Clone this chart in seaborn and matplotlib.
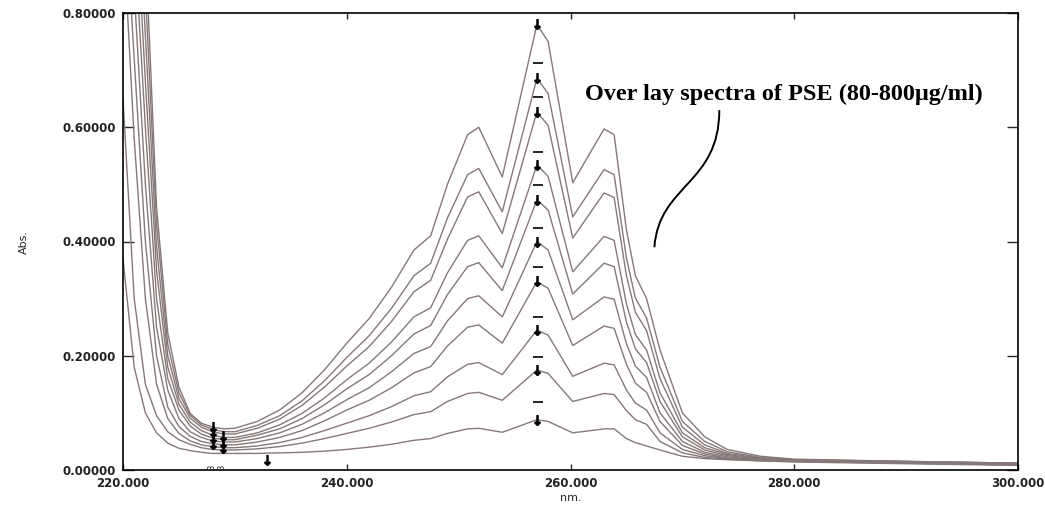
import pandas as pd
import seaborn as sns
import matplotlib.pyplot as plt
from matplotlib.path import Path
from matplotlib.patches import PathPatch
from matplotlib.ticker import FormatStrFormatter

# wavelengths (nm)
wavelength = [220, 221, 222, 223, 224, 225, 226, 227, 228, 229,
              230, 232, 234, 236, 238, 240, 242, 244, 246, 247.5,
              249, 250.8, 251.8, 253.9, 257, 258, 260.2, 263, 263.9, 265,
              265.8, 266.8, 268, 270, 272, 274, 277, 280, 290, 300]

# absorbance of each standard (80 ... 800 ug/ml)
abs_80 = [0.37, 0.18, 0.10, 0.065, 0.047, 0.038, 0.034, 0.031, 0.029, 0.029,
          0.029, 0.029, 0.030, 0.031, 0.033, 0.036, 0.040, 0.045, 0.052, 0.055,
          0.064, 0.072, 0.073, 0.066, 0.088, 0.085, 0.065, 0.072, 0.072, 0.055,
          0.048, 0.042, 0.035, 0.024, 0.020, 0.018, 0.016, 0.014, 0.011, 0.008]
abs_160 = [0.65, 0.30, 0.15, 0.095, 0.067, 0.053, 0.045, 0.039, 0.036, 0.035,
           0.035, 0.037, 0.041, 0.047, 0.055, 0.064, 0.073, 0.084, 0.097, 0.102,
           0.120, 0.134, 0.136, 0.122, 0.175, 0.169, 0.120, 0.134, 0.132, 0.104,
           0.088, 0.080, 0.050, 0.030, 0.022, 0.019, 0.016, 0.015, 0.012, 0.009]
abs_240 = [0.95, 0.58, 0.30, 0.15, 0.09, 0.064, 0.051, 0.044, 0.041, 0.039,
           0.039, 0.042, 0.048, 0.057, 0.069, 0.082, 0.095, 0.111, 0.130, 0.137,
           0.163, 0.185, 0.188, 0.167, 0.245, 0.236, 0.164, 0.187, 0.184, 0.140,
           0.117, 0.105, 0.065, 0.036, 0.025, 0.020, 0.017, 0.015, 0.012, 0.009]
abs_320 = [1.05, 0.72, 0.40, 0.20, 0.11, 0.076, 0.059, 0.050, 0.046, 0.044,
           0.044, 0.049, 0.057, 0.069, 0.086, 0.105, 0.122, 0.144, 0.170, 0.181,
           0.217, 0.250, 0.254, 0.222, 0.330, 0.318, 0.218, 0.252, 0.248, 0.185,
           0.152, 0.136, 0.085, 0.043, 0.028, 0.021, 0.017, 0.016, 0.013, 0.010]
abs_400 = [1.15, 0.84, 0.50, 0.25, 0.14, 0.090, 0.067, 0.057, 0.051, 0.049,
           0.049, 0.055, 0.065, 0.080, 0.100, 0.123, 0.144, 0.172, 0.204, 0.216,
           0.261, 0.300, 0.305, 0.268, 0.400, 0.385, 0.263, 0.303, 0.299, 0.221,
           0.182, 0.162, 0.100, 0.050, 0.031, 0.023, 0.018, 0.016, 0.013, 0.010]
abs_480 = [1.25, 0.94, 0.60, 0.30, 0.16, 0.105, 0.077, 0.063, 0.056, 0.053,
           0.053, 0.061, 0.072, 0.090, 0.114, 0.142, 0.167, 0.200, 0.238, 0.253,
           0.307, 0.356, 0.363, 0.314, 0.473, 0.455, 0.308, 0.362, 0.356, 0.259,
           0.212, 0.188, 0.120, 0.058, 0.035, 0.025, 0.019, 0.017, 0.014, 0.011]
abs_560 = [1.35, 1.04, 0.68, 0.35, 0.18, 0.115, 0.084, 0.069, 0.061, 0.057,
           0.057, 0.065, 0.079, 0.099, 0.126, 0.158, 0.187, 0.224, 0.268, 0.284,
           0.345, 0.402, 0.410, 0.354, 0.534, 0.514, 0.347, 0.409, 0.402, 0.291,
           0.237, 0.210, 0.135, 0.065, 0.039, 0.027, 0.020, 0.017, 0.014, 0.011]
abs_640 = [1.45, 1.14, 0.76, 0.39, 0.20, 0.125, 0.091, 0.075, 0.067, 0.063,
           0.063, 0.073, 0.089, 0.113, 0.145, 0.182, 0.216, 0.260, 0.312, 0.332,
           0.404, 0.478, 0.487, 0.414, 0.627, 0.603, 0.406, 0.485, 0.477, 0.340,
           0.276, 0.244, 0.160, 0.075, 0.044, 0.029, 0.021, 0.018, 0.015, 0.012]
abs_720 = [1.55, 1.24, 0.84, 0.43, 0.22, 0.135, 0.096, 0.079, 0.071, 0.067,
           0.067, 0.078, 0.095, 0.121, 0.156, 0.197, 0.235, 0.283, 0.340, 0.362,
           0.441, 0.517, 0.528, 0.452, 0.686, 0.659, 0.443, 0.526, 0.517, 0.371,
           0.301, 0.266, 0.180, 0.085, 0.050, 0.032, 0.022, 0.018, 0.015, 0.012]
abs_800 = [1.7, 1.34, 0.92, 0.46, 0.24, 0.145, 0.099, 0.082, 0.075, 0.072,
           0.073, 0.085, 0.105, 0.135, 0.175, 0.222, 0.265, 0.32, 0.385, 0.41,
           0.50, 0.587, 0.60, 0.513, 0.78, 0.75, 0.503, 0.597, 0.587, 0.42,
           0.34, 0.30, 0.210, 0.100, 0.058, 0.036, 0.024, 0.019, 0.015, 0.012]

concentrations = [80, 160, 240, 320, 400, 480, 560, 640, 720, 800]
spectra = [abs_80, abs_160, abs_240, abs_320, abs_400,
           abs_480, abs_560, abs_640, abs_720, abs_800]

# peak-pick marks (lambda max 257 nm) and the small dashes above them
peak_nm = 257.0
peak_abs = [0.088, 0.175, 0.245, 0.33, 0.40, 0.473, 0.534, 0.627, 0.686, 0.78]
dash_abs = [0.119, 0.198, 0.268, 0.355, 0.424, 0.499, 0.557, 0.653, 0.713]
# valley-pick marks near 228 nm
valley_nm = [228.0, 228.0, 228.0, 228.0, 228.9, 228.9, 228.9, 232.9]
valley_abs = [0.075, 0.066, 0.056, 0.045, 0.060, 0.048, 0.038, 0.018]

rows = []
for conc, values in zip(concentrations, spectra):
    for nm, a in zip(wavelength, values):
        rows.append({'nm': nm, 'abs': a, 'conc': conc})
data = pd.DataFrame(rows)

sns.set_style('ticks')
plt.rcParams['font.family'] = ['DejaVu Sans']

fig = plt.figure(figsize=(10.45, 5.21), dpi=100)
ax = fig.add_axes([123 / 1045, 51 / 521, 895 / 1045, 457 / 521])

sns.lineplot(data=data, x='nm', y='abs', hue='conc', units='conc', estimator=None,
             palette=['#867878'] * len(concentrations), linewidth=1.0,
             legend=False, sort=False, ax=ax)

# peak / valley markers
ax.plot([peak_nm] * len(peak_abs), peak_abs, linestyle='none', marker=r'$\downarrow$',
        markersize=7, color='black')
ax.plot([peak_nm + 0.1] * len(dash_abs), dash_abs, linestyle='none', marker='_',
        markersize=7, markeredgewidth=1.2, color='black')
ax.plot(valley_nm, valley_abs, linestyle='none', marker=r'$\downarrow$',
        markersize=7, color='black')
ax.text(227.9, 0.004, '3', rotation=90, fontsize=6, ha='center', va='center')
ax.text(228.8, 0.004, '3', rotation=90, fontsize=6, ha='center', va='center')

# annotation and its leader curve
ax.text(261.3, 0.657, 'Over lay spectra of PSE (80-800\u03bcg/ml)',
        family='Liberation Serif', fontweight='bold', fontsize=17.5,
        ha='left', va='center', color='black')
leader = Path([(267.5, 0.39), (267.9, 0.50), (273.3, 0.50), (273.3, 0.63)],
              [Path.MOVETO, Path.CURVE4, Path.CURVE4, Path.CURVE4])
ax.add_patch(PathPatch(leader, facecolor='none', edgecolor='black', linewidth=1.4))

ax.set_xlim(220, 300)
ax.set_ylim(0, 0.8)
ax.set_xticks([220, 240, 260, 280, 300])
ax.set_yticks([0, 0.2, 0.4, 0.6, 0.8])
ax.xaxis.set_major_formatter(FormatStrFormatter('%.3f'))
ax.yaxis.set_major_formatter(FormatStrFormatter('%.5f'))
ax.tick_params(axis='y', direction='in', left=True, right=True, length=8,
               width=1, pad=5, labelsize=8.5, labelcolor='#222222')
ax.tick_params(axis='x', direction='in', bottom=True, top=True, length=4,
               width=1, pad=5, labelsize=8.5, labelcolor='#222222')
for label in ax.get_xticklabels() + ax.get_yticklabels():
    label.set_fontweight('bold')
for side in ['left', 'right', 'top', 'bottom']:
    ax.spines[side].set_visible(True)
    ax.spines[side].set_linewidth(1.2)
    ax.spines[side].set_color('black')

ax.set_xlabel('nm.', fontsize=8, labelpad=2)
ax.set_ylabel('Abs.', fontsize=8, labelpad=24)

fig.savefig('out.png', dpi=100, facecolor='white')
